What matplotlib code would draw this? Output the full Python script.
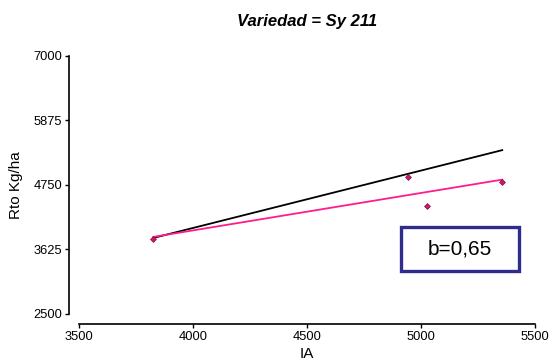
import numpy as np
import matplotlib
matplotlib.use("Agg")
import matplotlib.pyplot as plt
from matplotlib.patches import Rectangle

plt.rcParams['font.family'] = ['Liberation Sans', 'DejaVu Sans']

# Observed yield vs. environmental index for variety Sy 211
ia = [3825, 4940, 5025, 5355]
rto = [3810, 4880, 4390, 4800]

x_ticks = [3500, 4000, 4500, 5000, 5500]
y_ticks = [2500, 3625, 4750, 5875, 7000]

title = "Variedad = Sy 211"
x_label = "IA"
y_label = "Rto Kg/ha"

ia_arr = np.array(ia, dtype=float)
rto_arr = np.array(rto, dtype=float)
slope, intercept = np.polyfit(ia_arr, rto_arr, 1)

W, H = 552, 363
fig = plt.figure(figsize=(W / 100, H / 100), dpi=100)
ax = fig.add_axes([79.3 / W, 1 - 314 / H, 456 / W, 258.3 / H])

xs = np.array([ia_arr.min(), ia_arr.max()])
# 1:1 reference line
ax.plot(xs, xs, color="black", lw=1.3, zorder=2)
# fitted regression line
ax.plot(xs, intercept + slope * xs, color="#FF1C8D", lw=1.3, zorder=3)
ax.scatter(ia_arr, rto_arr, marker="D", s=9, color="#D0186E",
           edgecolors="#7A1040", linewidths=0.5, zorder=4)

ax.set_xlim(3500, 5500)
ax.set_ylim(2500, 7000)
ax.set_xticks(x_ticks)
ax.set_yticks(y_ticks)
ax.tick_params(direction="out", length=3, width=1, labelsize=9.3, pad=2)

for side in ("top", "right"):
    ax.spines[side].set_visible(False)
ax.spines["left"].set_position(("outward", 7.5))
ax.spines["bottom"].set_position(("outward", 7))
ax.spines["left"].set_linewidth(1.2)
ax.spines["bottom"].set_linewidth(1.2)
ax.spines["left"].set_bounds(2500, 7000)
ax.spines["bottom"].set_bounds(3500, 5500)

ax.set_xlabel(x_label, fontsize=11)
ax.set_ylabel(y_label, fontsize=11)
ax.xaxis.set_label_coords(0.5, (314 - 354) / 258.3)
ax.yaxis.set_label_coords((16 - 79.3) / 456, 0.5)
ax.xaxis.label.set_va("center")
ax.yaxis.label.set_va("center")

fig.text(307 / W, 1 - 21.7 / H, title, fontsize=12, fontweight="bold",
         fontstyle="italic", ha="center", va="center")

# slope annotation box
box = Rectangle((4911, 3254), 5427 - 4911, 4021 - 3254, fill=False,
                edgecolor="#2E2C8C", lw=2.4, zorder=5, clip_on=False)
ax.add_patch(box)
ax.text((4911 + 5427) / 2, (3254 + 4021) / 2, "b=" + f"{slope:.2f}".replace(".", ","),
        ha="center", va="center", fontsize=15, zorder=6)

fig.savefig("out.png", dpi=100)
